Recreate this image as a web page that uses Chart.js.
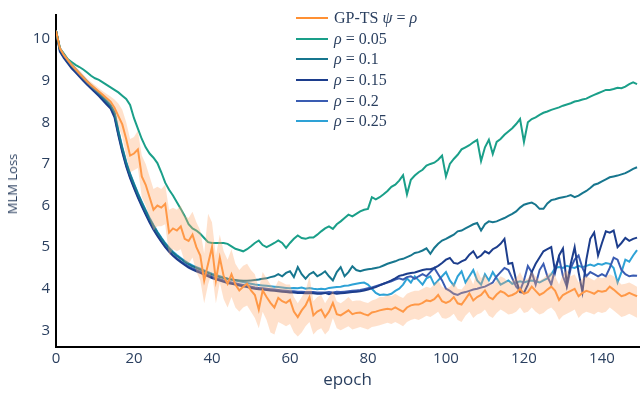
<!DOCTYPE html>
<html>
<head>
<meta charset="utf-8">
<script src="https://cdn.jsdelivr.net/npm/chart.js@4.4.1/dist/chart.umd.min.js"></script>
<style>
  html, body { margin: 0; padding: 0; background: #fff; }
  #wrap { position: relative; width: 640px; height: 398px; }
  #legend { position: absolute; left: 296px; top: 8px; font-family: "Liberation Serif", "DejaVu Serif", serif; font-size: 16px; color: #2a3f5f; }
  #legend .row { height: 20.6px; display: flex; align-items: center; }
  #legend .swatch { display: inline-block; width: 32px; height: 2px; margin-right: 6px; }
  #legend i { font-style: italic; }
  #ytitle { position: absolute; left: 12px; top: 184px; transform: translate(-50%, -50%) rotate(-90deg); font-family: "Open Sans", sans-serif; font-size: 13px; color: #2a3f5f; white-space: nowrap; }
</style>
</head>
<body>
<div id="wrap">
  <canvas id="chart" width="640" height="398"></canvas>
  <div id="legend"></div>
  <div id="ytitle">MLM Loss</div>
</div>
<script>
const epochs = Array.from({ length: 150 }, (_, i) => i);

const gpMean = [
  10.2, 9.78, 9.62, 9.5, 9.38, 9.28, 9.18, 9.08, 8.98, 8.9,
  8.82, 8.74, 8.66, 8.58, 8.5, 8.35, 8.15, 7.95, 7.6, 7.2,
  7.25, 7.35, 6.7, 6.5, 6.2, 5.9, 6.0, 5.95, 6.04, 5.35,
  5.45, 5.4, 5.5, 5.2, 5.15, 5.3, 5.0, 4.8, 4.2, 4.6,
  5.0, 4.2, 4.75, 4.3, 4.12, 4.35, 4.1, 3.96, 4.05, 4.12,
  3.96, 3.85, 3.5, 3.96, 3.8, 3.66, 3.55, 3.78, 3.7, 3.66,
  3.73, 3.45, 3.32, 3.48, 3.6, 3.8, 3.36, 3.45, 3.5, 3.32,
  3.45, 3.66, 3.39, 3.36, 3.42, 3.48, 3.39, 3.42, 3.43, 3.39,
  3.36, 3.43, 3.45, 3.48, 3.5, 3.52, 3.5, 3.55, 3.5, 3.45,
  3.55, 3.6, 3.62, 3.62, 3.66, 3.72, 3.7, 3.75, 3.85, 3.7,
  3.66, 3.7, 3.8, 3.65, 3.62, 3.75, 3.89, 3.72, 3.8, 3.85,
  3.96, 3.8, 3.75, 3.86, 3.94, 3.9, 3.82, 3.85, 3.9, 4.0,
  3.88, 3.92, 4.05, 3.95, 3.85, 3.9, 3.98, 4.05, 3.95, 3.73,
  3.85, 3.9, 3.95, 4.0, 3.82, 3.9, 3.95, 3.92, 3.88, 3.95,
  3.93, 3.95, 4.05, 3.98, 3.9, 3.82, 3.85, 3.9, 3.86, 3.82
];

const gpUpper = [
  10.22, 9.84, 9.68, 9.56, 9.44, 9.34, 9.25, 9.15, 9.05, 8.97,
  8.9, 8.82, 8.75, 8.68, 8.62, 8.55, 8.45, 8.3, 8.0, 7.6,
  7.65, 7.8, 7.2, 7.0, 6.7, 6.4, 6.45, 6.4, 6.5, 5.9,
  5.95, 5.9, 6.0, 5.75, 5.7, 5.85, 5.6, 5.4, 4.85, 5.8,
  5.6, 4.8, 5.3, 4.9, 4.7, 4.95, 4.6, 4.45, 4.55, 4.6,
  4.45, 4.35, 4.0, 4.4, 4.25, 4.1, 4.0, 4.2, 4.15, 4.1,
  4.1, 3.8, 3.65, 3.8, 3.95, 4.3, 3.7, 3.8, 3.85, 3.65,
  3.8, 3.95, 3.7, 3.65, 3.72, 3.8, 3.7, 3.72, 3.72, 3.68,
  3.66, 3.72, 3.75, 3.8, 3.8, 3.85, 3.82, 3.88, 3.82, 3.78,
  3.88, 3.92, 3.95, 3.95, 4.0, 4.05, 4.02, 4.1, 4.2, 4.05,
  4.0, 4.05, 4.15, 4.0, 3.98, 4.1, 4.3, 4.1, 4.45, 4.25,
  4.35, 4.15, 4.1, 4.2, 4.3, 4.25, 4.15, 4.2, 4.25, 4.4,
  4.2, 4.25, 4.4, 4.3, 4.2, 4.25, 4.35, 4.4, 4.3, 4.1,
  4.35, 4.45, 4.3, 4.35, 4.15, 4.25, 4.3, 4.25, 4.2, 4.28,
  4.25, 4.28, 4.35, 4.3, 4.2, 4.1, 4.12, 4.15, 4.1, 4.05
];

const gpLower = [
  10.18, 9.74, 9.57, 9.45, 9.33, 9.22, 9.12, 9.02, 8.92, 8.84,
  8.76, 8.68, 8.6, 8.5, 8.4, 8.2, 7.9, 7.65, 7.2, 6.8,
  6.85, 6.9, 6.2, 6.0, 5.7, 5.4, 5.5, 5.5, 5.55, 4.8,
  4.95, 4.9, 4.95, 4.65, 4.6, 4.75, 4.4, 4.2, 3.65, 4.1,
  4.4, 3.65, 4.15, 3.75, 3.55, 3.8, 3.55, 3.45, 3.55, 3.6,
  3.45, 3.3, 3.05, 3.45, 3.25, 2.95, 2.9, 3.2, 3.15, 3.1,
  3.15, 2.95, 2.85, 2.95, 3.1, 3.2, 2.9, 3.0, 3.05, 2.9,
  3.0, 3.3, 3.05, 3.0, 3.05, 3.1, 3.02, 3.05, 3.08, 3.05,
  3.02, 3.08, 3.1, 3.12, 3.15, 3.18, 3.15, 3.2, 3.15, 3.1,
  3.2, 3.25, 3.28, 3.25, 3.3, 3.35, 3.32, 3.38, 3.45, 3.3,
  3.28, 3.32, 3.4, 3.25, 3.2, 3.35, 3.45, 3.3, 3.38, 3.42,
  3.5, 3.35, 3.3, 3.42, 3.5, 3.45, 3.38, 3.4, 3.45, 3.55,
  3.42, 3.45, 3.55, 3.45, 3.38, 3.42, 3.5, 3.55, 3.45, 3.25,
  3.35, 3.4, 3.45, 3.5, 3.3, 3.4, 3.45, 3.42, 3.38, 3.45,
  3.42, 3.45, 3.55, 3.48, 3.4, 3.32, 3.35, 3.4, 3.35, 3.3
];

const rho05 = [
  10.2, 9.78, 9.65, 9.52, 9.45, 9.38, 9.33, 9.27, 9.2, 9.12,
  9.06, 9.02, 8.96, 8.9, 8.84, 8.78, 8.72, 8.64, 8.56, 8.42,
  8.1, 7.85, 7.6, 7.4, 7.25, 7.15, 7.02, 6.8, 6.55, 6.38,
  6.24, 6.08, 5.92, 5.75, 5.55, 5.45, 5.4, 5.32, 5.22, 5.12,
  5.1, 5.1, 5.1, 5.1, 5.08, 5.02, 4.96, 4.93, 4.9, 4.95,
  5.02, 5.1, 5.16, 5.05, 5.0, 5.05, 5.1, 5.16, 5.1, 4.98,
  5.1, 5.2, 5.28, 5.22, 5.2, 5.23, 5.23, 5.3, 5.38, 5.45,
  5.5, 5.44, 5.55, 5.62, 5.7, 5.78, 5.74, 5.8, 5.86, 5.9,
  5.92, 6.2, 6.15, 6.2, 6.27, 6.35, 6.45, 6.5, 6.6, 6.73,
  6.27, 6.62, 6.72, 6.8, 6.86, 6.96, 7.0, 7.03, 7.1, 7.2,
  6.7, 7.0, 7.12, 7.22, 7.35, 7.4, 7.45, 7.52, 7.58, 7.07,
  7.4, 7.58, 7.24, 7.53, 7.6, 7.7, 7.78, 7.86, 7.96, 8.08,
  7.53, 8.0, 8.08, 8.12, 8.18, 8.23, 8.26, 8.3, 8.33, 8.36,
  8.4, 8.43, 8.46, 8.5, 8.52, 8.55, 8.57, 8.62, 8.66, 8.7,
  8.74, 8.78, 8.78, 8.8, 8.83, 8.82, 8.86, 8.92, 8.96, 8.92
];

const rho10 = [
  10.2, 9.76, 9.62, 9.49, 9.37, 9.27, 9.17, 9.07, 8.97, 8.88,
  8.79, 8.7, 8.6, 8.5, 8.4, 8.23, 7.78, 7.38, 7.03, 6.75,
  6.51, 6.28, 6.07, 5.87, 5.68, 5.51, 5.35, 5.21, 5.08, 4.97,
  4.87, 4.79, 4.72, 4.65, 4.59, 4.54, 4.5, 4.46, 4.42, 4.38,
  4.34, 4.31, 4.28, 4.26, 4.24, 4.22, 4.21, 4.2, 4.19, 4.19,
  4.2, 4.21, 4.22, 4.24, 4.25, 4.28, 4.3, 4.35, 4.3, 4.38,
  4.42, 4.28, 4.52, 4.35, 4.24, 4.35, 4.4, 4.3, 4.35, 4.42,
  4.3, 4.2, 4.4, 4.52, 4.3, 4.4, 4.54, 4.45, 4.42, 4.45,
  4.47, 4.48, 4.5, 4.52, 4.56, 4.6, 4.63, 4.66, 4.7, 4.72,
  4.76, 4.8, 4.86, 4.88, 4.92, 4.97, 4.84, 4.98, 5.08, 5.16,
  5.2, 5.25, 5.3, 5.38, 5.4, 5.45, 5.5, 5.55, 5.58, 5.4,
  5.55, 5.62, 5.6, 5.62, 5.66, 5.7, 5.75, 5.8, 5.86, 5.95,
  6.02, 6.05, 6.07, 6.02, 5.92, 5.92, 6.05, 6.13, 6.15, 6.18,
  6.2, 6.22, 6.25, 6.2, 6.24, 6.3, 6.35, 6.42, 6.5, 6.53,
  6.58, 6.63, 6.68, 6.7, 6.72, 6.75, 6.78, 6.83, 6.88, 6.92
];

const rho15 = [
  10.2, 9.7, 9.55, 9.42, 9.3, 9.2, 9.1, 9.0, 8.9, 8.81,
  8.72, 8.63, 8.53, 8.43, 8.33, 8.12, 7.68, 7.28, 6.94, 6.66,
  6.42, 6.19, 5.98, 5.78, 5.59, 5.42, 5.27, 5.13, 5.0, 4.89,
  4.79, 4.71, 4.64, 4.57, 4.51, 4.46, 4.42, 4.38, 4.34, 4.3,
  4.26, 4.23, 4.2, 4.17, 4.14, 4.12, 4.1, 4.08, 4.06, 4.04,
  4.02, 4.0, 3.99, 3.98, 3.97, 3.96, 3.95, 3.94, 3.93, 3.92,
  3.91, 3.91, 3.9, 3.9, 3.89, 3.89, 3.89, 3.88, 3.88, 3.9,
  3.87, 3.9, 3.88, 3.89, 3.9, 3.91, 3.92, 3.93, 3.94, 3.96,
  3.98, 4.01, 4.04, 4.08, 4.12, 4.16, 4.2, 4.25, 4.31, 4.33,
  4.36, 4.38, 4.39, 4.42, 4.45, 4.47, 4.47, 4.5, 4.55, 4.62,
  4.7, 4.74, 4.62, 4.6, 4.66, 4.7, 4.82, 4.9, 4.74, 4.8,
  4.9, 4.85, 4.95, 5.0, 5.08, 5.2, 4.6, 4.62, 4.2, 3.92,
  3.9, 4.1, 4.4, 4.6, 4.75, 4.9, 4.95, 5.0, 4.4, 4.8,
  4.97, 4.1, 4.6, 5.0, 4.4, 3.92, 4.7, 5.2, 5.35, 4.8,
  5.1, 5.38, 5.35, 5.4, 5.0, 5.1, 5.22, 5.15, 5.2, 5.23
];

const rho20 = [
  10.2, 9.73, 9.58, 9.45, 9.33, 9.23, 9.13, 9.03, 8.93, 8.84,
  8.75, 8.66, 8.56, 8.46, 8.36, 8.17, 7.72, 7.32, 6.97, 6.69,
  6.45, 6.22, 6.01, 5.81, 5.62, 5.45, 5.29, 5.15, 5.02, 4.91,
  4.81, 4.73, 4.66, 4.6, 4.54, 4.49, 4.45, 4.41, 4.37, 4.33,
  4.29, 4.26, 4.23, 4.2, 4.17, 4.15, 4.13, 4.11, 4.09, 4.07,
  4.05, 4.03, 4.02, 4.01, 4.0, 3.99, 3.98, 3.97, 3.96, 3.95,
  3.94, 3.94, 3.93, 3.93, 3.92, 3.92, 3.92, 3.91, 3.91, 3.91,
  3.92, 3.91, 3.93, 3.92, 3.93, 3.94, 3.95, 3.96, 3.97, 3.99,
  4.01, 4.03, 4.06, 4.09, 4.12, 4.15, 4.18, 4.22, 4.25, 4.22,
  4.28, 4.3, 4.24, 4.3, 4.35, 4.3, 4.4, 4.5, 4.35, 4.2,
  4.0, 3.95, 3.88, 3.85, 3.9, 3.92, 3.95, 3.98, 4.0, 4.03,
  4.05, 4.1, 4.15, 4.3, 4.4, 4.5, 4.45, 4.25, 4.05, 3.95,
  4.2, 4.55, 4.4, 4.1, 4.45, 4.6, 4.3, 4.1, 4.5, 4.75,
  4.3, 4.05, 4.5, 4.7, 4.8, 4.5, 4.3, 4.4, 4.35, 4.3,
  4.35, 4.3, 4.5, 4.75, 4.7, 4.45, 4.35, 4.3, 4.32, 4.31
];

const rho25 = [
  10.2, 9.78, 9.64, 9.51, 9.39, 9.29, 9.19, 9.09, 8.99, 8.9,
  8.81, 8.72, 8.62, 8.52, 8.42, 8.25, 7.8, 7.4, 7.05, 6.77,
  6.53, 6.3, 6.09, 5.89, 5.7, 5.53, 5.37, 5.23, 5.1, 4.99,
  4.89, 4.81, 4.74, 4.67, 4.61, 4.56, 4.52, 4.48, 4.44, 4.4,
  4.36, 4.33, 4.3, 4.27, 4.24, 4.22, 4.2, 4.18, 4.16, 4.14,
  4.12, 4.1, 4.09, 4.08, 4.07, 4.06, 4.05, 4.04, 4.03, 4.02,
  4.01, 4.02, 4.01, 4.03, 4.0, 4.02, 4.0, 3.99, 4.0, 3.99,
  4.02, 4.03, 4.04, 4.05, 4.07, 4.08, 4.1, 4.12, 4.14, 4.15,
  4.1, 4.0, 3.9, 3.85, 3.86, 3.85, 3.88, 3.95, 4.0, 4.1,
  4.25, 4.15, 4.3, 4.2, 4.1, 4.25, 4.3, 4.1, 4.2, 4.3,
  4.4, 4.2, 4.08, 4.3, 4.42, 4.15, 4.3, 4.45, 4.2, 4.1,
  4.35, 4.2, 4.4, 4.25, 4.1, 4.15, 4.2, 4.12, 4.15, 4.18,
  4.15, 4.18, 4.2, 4.18, 4.15, 4.2, 4.25, 4.35, 4.5, 4.52,
  4.5, 4.55, 4.52, 4.5, 4.55, 4.52, 4.55, 4.58, 4.55, 4.6,
  4.58, 4.62, 4.6, 4.5, 4.15, 4.4, 4.7, 4.65, 4.8, 4.93
];

const xTicks = [0, 20, 40, 60, 80, 100, 120, 140];
const yTicks = [3, 4, 5, 6, 7, 8, 9, 10];

const inkColor = '#2a3f5f';
const orange = '#ff9033';

// legend entries: [colour, html label]
const legendItems = [
  [orange, 'GP-TS <i>ψ</i> = <i>ρ</i>'],
  ['#1a9f89', '<i>ρ</i> = 0.05'],
  ['#17768e', '<i>ρ</i> = 0.1'],
  ['#1c3d8c', '<i>ρ</i> = 0.15'],
  ['#3a5cb2', '<i>ρ</i> = 0.2'],
  ['#2ea2d6', '<i>ρ</i> = 0.25']
];

const legend = document.getElementById('legend');
legendItems.forEach(([color, label]) => {
  const row = document.createElement('div');
  row.className = 'row';
  row.innerHTML = `<span class="swatch" style="background:${color}"></span><span>${label}</span>`;
  legend.appendChild(row);
});

const pts = arr => arr.map((v, i) => ({ x: epochs[i], y: v }));

function lineSet(label, data, color) {
  return {
    label: label,
    data: pts(data),
    borderColor: color,
    borderWidth: 2,
    pointRadius: 0,
    tension: 0,
    fill: false
  };
}

new Chart(document.getElementById('chart'), {
  type: 'line',
  data: {
    datasets: [
      { label: 'lower', data: pts(gpLower), borderWidth: 0, pointRadius: 0, fill: false },
      { label: 'upper', data: pts(gpUpper), borderWidth: 0, pointRadius: 0, fill: '-1', backgroundColor: 'rgba(255, 170, 110, 0.35)' },
      lineSet('GP-TS', gpMean, orange),
      lineSet('rho 0.05', rho05, legendItems[1][0]),
      lineSet('rho 0.1', rho10, legendItems[2][0]),
      lineSet('rho 0.15', rho15, legendItems[3][0]),
      lineSet('rho 0.2', rho20, legendItems[4][0]),
      lineSet('rho 0.25', rho25, legendItems[5][0])
    ]
  },
  options: {
    responsive: false,
    animation: false,
    layout: { padding: { top: 0, right: 1, bottom: 8, left: 0 } },
    plugins: { legend: { display: false }, tooltip: { enabled: false } },
    scales: {
      x: {
        type: 'linear',
        min: 0,
        max: 149.5,
        afterFit: s => { s.height = 43; },
        afterBuildTicks: s => { s.ticks = xTicks.map(v => ({ value: v })); },
        grid: { display: false, drawTicks: false },
        border: { display: true, color: '#000', width: 2 },
        ticks: { color: inkColor, padding: 3, font: { family: 'Open Sans', size: 15 }, maxRotation: 0 },
        title: { display: true, text: 'epoch', color: inkColor, font: { family: 'Open Sans', size: 17 }, padding: 0 }
      },
      y: {
        min: 2.6,
        max: 10.58,
        afterFit: s => { s.width = 56; },
        afterBuildTicks: s => { s.ticks = yTicks.map(v => ({ value: v })); },
        grid: { display: false, drawTicks: false },
        border: { display: true, color: '#000', width: 2 },
        ticks: { color: inkColor, padding: 6, font: { family: 'Open Sans', size: 15 } },
        title: { display: false }
      }
    }
  }
});
</script>
</body>
</html>
